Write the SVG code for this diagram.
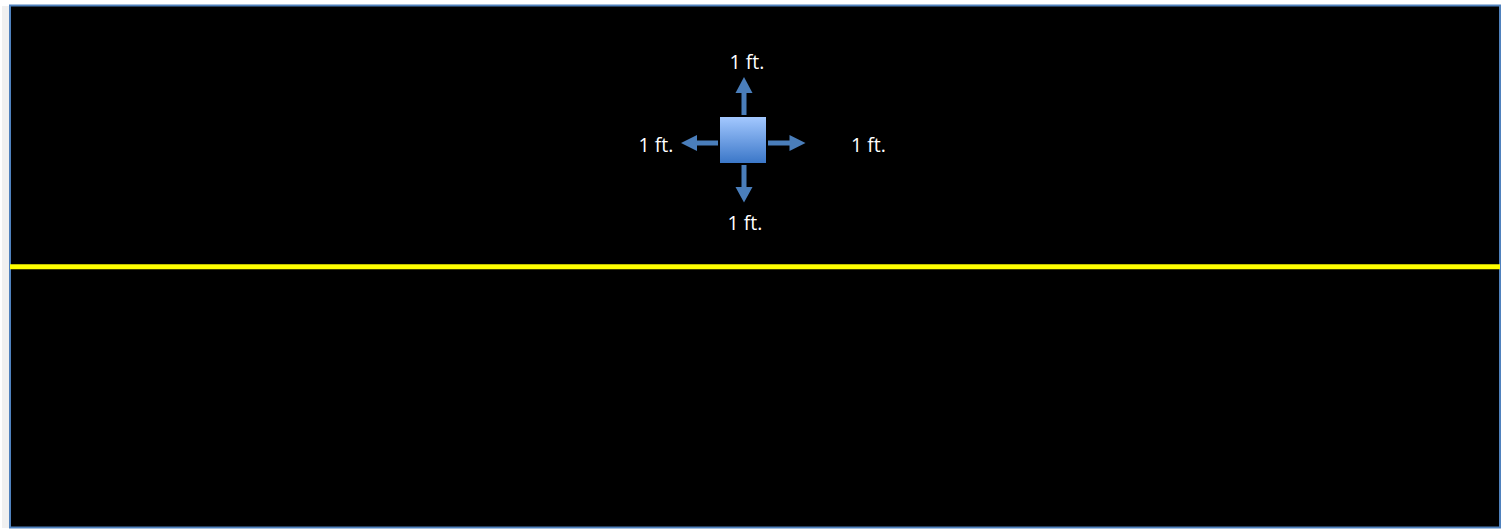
<svg xmlns="http://www.w3.org/2000/svg" width="1501" height="530" viewBox="0 0 1501 530">
<style>
.lbl{font-family:"Open Sans","Liberation Sans",sans-serif;font-size:19.5px;fill:#ffffff;text-anchor:middle}
.arr{fill:#4a7ebb}
</style>
<defs>
<linearGradient id="g" x1="0" y1="0" x2="0" y2="1">
<stop offset="0" stop-color="#a3c8ff"/>
<stop offset="1" stop-color="#3b77c8"/>
</linearGradient>
</defs>
<rect x="0" y="0" width="1501" height="530" fill="#ffffff"/>
<rect x="2" y="6" width="8" height="522" fill="#f0f0f0"/>
<rect id="ground" x="10" y="5.5" width="1490" height="522" fill="#000000" stroke="#4f81bd" stroke-width="2"/>
<g id="road">
<line x1="10" y1="266.7" x2="1500" y2="266.7" stroke="#ffff00" stroke-width="5"/>
</g>
<g id="connectors">
<polygon class="arr" points="741.5,115 746.5,115 746.5,93 752.5,93 744,77 735.5,93 741.5,93"/>
<polygon class="arr" points="741.5,165 746.5,165 746.5,187 752.5,187 744,202.5 735.5,187 741.5,187"/>
<polygon class="arr" points="718,140.5 718,145.5 697,145.5 697,151 681,143 697,135 697,140.5"/>
<polygon class="arr" points="768,140.5 768,145.5 789.5,145.5 789.5,151 805.5,143 789.5,135 789.5,140.5"/>
</g>
<g id="box">
<rect x="720" y="117" width="46" height="46" fill="url(#g)"/>
</g>
<g id="labels">
<text class="lbl" x="747" y="68.5">1 ft.</text>
<text class="lbl" x="656" y="152">1 ft.</text>
<text class="lbl" x="868.5" y="151.5">1 ft.</text>
<text class="lbl" x="745" y="229.5">1 ft.</text>
</g>
</svg>
